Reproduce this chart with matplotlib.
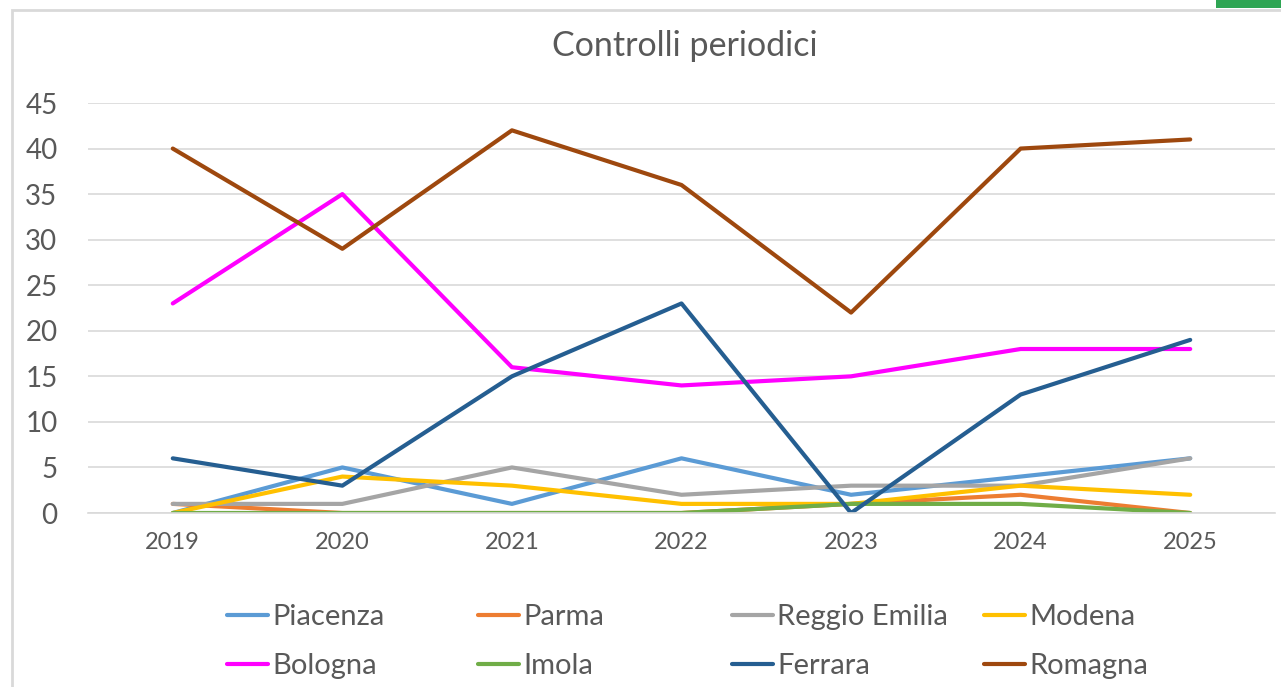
import matplotlib
matplotlib.use("Agg")
import matplotlib.pyplot as plt
from matplotlib.patches import Rectangle

years = ["2019", "2020", "2021", "2022", "2023", "2024", "2025"]
piacenza = [0, 5, 1, 6, 2, 4, 6]
parma = [1, 0, 0, 0, 1, 2, 0]
reggio = [1, 1, 5, 2, 3, 3, 6]
modena = [0, 4, 3, 1, 1, 3, 2]
bologna = [23, 35, 16, 14, 15, 18, 18]
imola = [0, 0, 0, 0, 1, 1, 0]
ferrara = [6, 3, 15, 23, 0, 13, 19]
romagna = [40, 29, 42, 36, 22, 40, 41]

series = [
    ("Piacenza", piacenza, "#5B9BD5"),
    ("Parma", parma, "#ED7D31"),
    ("Reggio Emilia", reggio, "#A5A5A5"),
    ("Modena", modena, "#FFC000"),
    ("Bologna", bologna, "#FF00FF"),
    ("Imola", imola, "#70AD47"),
    ("Ferrara", ferrara, "#255E91"),
    ("Romagna", romagna, "#9E480E"),
]

W, H = 1281, 687
plt.rcParams['font.family'] = ['Lato', 'DejaVu Sans']
fig = plt.figure(figsize=(W / 100, H / 100), dpi=100)
fig.patch.set_facecolor("white")
fig.patches.append(Rectangle((12 / W, -0.01), 1.0, 1.01 - 10 / H, transform=fig.transFigure,
                             fill=False, edgecolor="#D9D9D9", linewidth=2))
fig.patches.append(Rectangle((1216 / W, 1 - 8 / H), 65 / W, 8 / H, transform=fig.transFigure,
                             facecolor="#2EA553", edgecolor="none"))

ax = fig.add_axes([88 / W, 1 - 513 / H, (1275 - 88) / W, (513 - 103) / H])
x = list(range(len(years)))
lines = []
for name, vals, col in series:
    ln, = ax.plot(x, vals, color=col, linewidth=3, label=name,
                  solid_joinstyle="round", solid_capstyle="round")
    lines.append(ln)

ax.set_xlim(-0.5, len(years) - 0.5)
ax.set_ylim(0, 45)
ax.set_yticks(range(0, 46, 5))
ax.set_xticks(x)
ax.set_xticklabels(years)
ax.grid(axis="y", color="#D9D9D9", linewidth=1.2)
ax.set_axisbelow(True)
for s in ["top", "right", "left"]:
    ax.spines[s].set_visible(False)
ax.spines["bottom"].set_color("#D9D9D9")
ax.spines["bottom"].set_linewidth(1.2)
ax.tick_params(axis="both", length=0, colors="#595959")
ax.tick_params(axis="y", labelsize=20, pad=22)
ax.tick_params(axis="x", labelsize=17, pad=14)
fig.text(685 / W, 1 - 46 / H, "Controlli periodici", fontsize=24.5, color="#595959",
         ha="center", va="center")

col_x = [227, 478, 732, 984]
for c in range(4):
    hs = [lines[c], lines[c + 4]]
    fig.legend(hs, [h.get_label() for h in hs], loc="upper left",
               bbox_to_anchor=(col_x[c] / W, 1 - 604 / H), frameon=False,
               fontsize=21, labelcolor="#595959", handlelength=1.4,
               handletextpad=0.15, labelspacing=0.8, borderpad=0, borderaxespad=0)

fig.savefig("out.png", dpi=100, facecolor="white")
